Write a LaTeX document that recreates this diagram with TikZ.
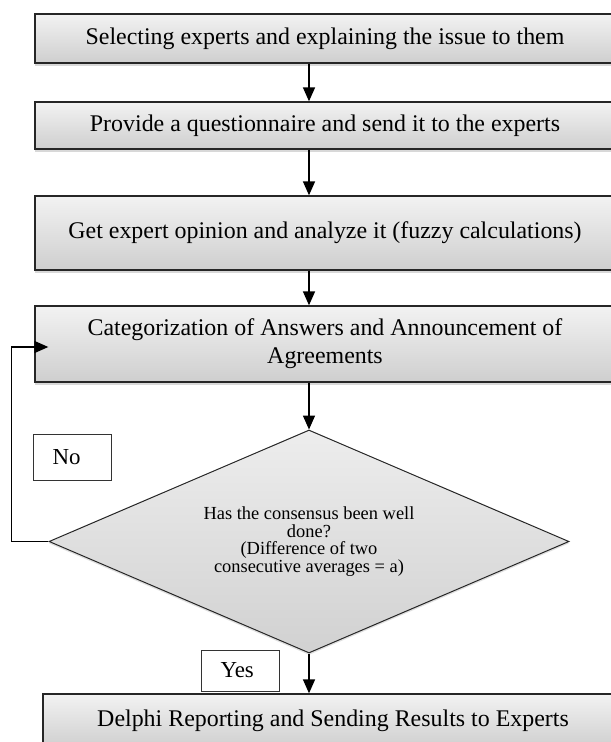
\documentclass[tikz,border=0pt]{standalone}
\usepackage{fontspec}
\setmainfont{Liberation Serif}
\usetikzlibrary{arrows.meta,shapes.geometric,shadows}

\begin{document}
\begin{tikzpicture}[x=1bp,y=-1bp,
    stepbox/.style={draw=black!85,line width=1.3bp,top color=gray!10,bottom color=gray!38,
        drop shadow={shadow xshift=0bp,shadow yshift=-3bp,opacity=.3},
        minimum width=580bp,inner sep=0pt,align=center,font=\fontsize{24}{28}\selectfont},
    decision/.style={diamond,draw=black!85,line width=1bp,top color=gray!14,bottom color=gray!36,
        drop shadow={shadow xshift=0bp,shadow yshift=-2bp,opacity=.25},
        aspect=2.33,minimum width=520bp,minimum height=223bp,inner sep=0pt,
        align=center,font=\fontsize{18.5}{17.5}\selectfont},
    answer/.style={draw=black!80,line width=.8bp,fill=white,inner xsep=19bp,inner ysep=0pt,
        text width=40bp,align=left,font=\fontsize{23}{26}\selectfont},
    flow/.style={line width=1.5bp,-{Triangle[length=14bp,width=12bp]}}]
        \useasboundingbox (0,0) rectangle (611,742);
        \clip (0,0) rectangle (611,742);
        \fill[white] (0,0) rectangle (611,742);

        \coordinate (axis) at (309,0);

        \node[stepbox,minimum height=49bp] (s1) at (325,38.5) {Selecting experts and explaining the issue to them};
        \node[stepbox,minimum height=47bp] (s2) at (325,125.5) {Provide a questionnaire and send it to the experts};
        \node[stepbox,minimum height=74bp] (s3) at (325,233) {Get expert opinion and analyze it (fuzzy calculations)};
        \node[stepbox,minimum height=76bp] (s4) at (325,344) {Categorization of Answers and Announcement of\\Agreements};
        \node[decision] (dec) at (309,541.5) {Has the consensus been well\\done?\\(Difference of two\\consecutive averages = a)};
        \node[stepbox,minimum height=54bp] (s5) at (333,721) {Delphi Reporting and Sending Results to Experts};

        \node[answer,minimum height=46bp] (no) at (72.5,457) {No};
        \node[answer,minimum height=41bp] (yes) at (240.5,670.5) {Yes};

        \draw[flow] (s1.south -| axis) -- (s2.north -| axis);
        \draw[flow] (s2.south -| axis) -- (s3.north -| axis);
        \draw[flow] (s3.south -| axis) -- (s4.north -| axis);
        \draw[flow] (s4.south -| axis) -- (dec.north);
        \draw[flow] (dec.south) -- (s5.north -| dec.south);

        % back to the categorization step
        \draw[flow,shorten >=-14bp] (dec.west) -- ++(-37,0) |- ([yshift=-3bp]s4.west);
    \end{tikzpicture}
\end{document}
